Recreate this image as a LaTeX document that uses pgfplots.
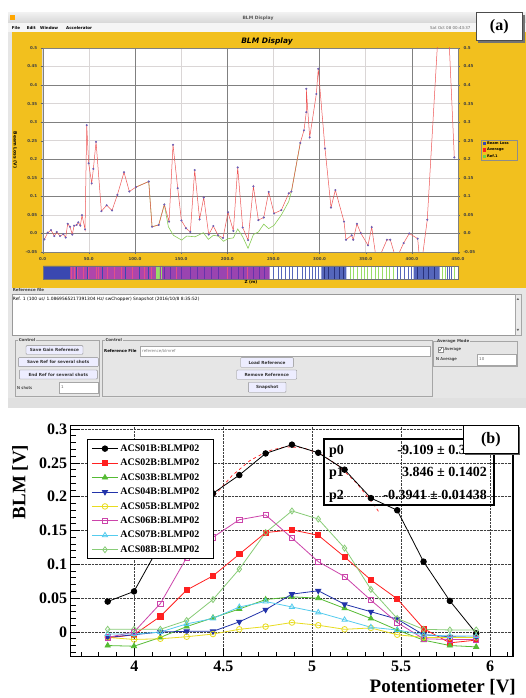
\documentclass[border=0pt]{standalone}
\usepackage{pgfplots}
\usepackage{pgfplotstable}
\pgfplotsset{compat=1.18}
\usepackage{fontspec}
\setmainfont{Liberation Serif}
\newfontfamily\gui{DejaVu Sans}
\definecolor{jyel}{HTML}{F2C01E}
\definecolor{jgray}{HTML}{E6E6E6}
\definecolor{avgred}{HTML}{EE5555}
\definecolor{mkpur}{HTML}{7766CC}
\definecolor{refgrn}{HTML}{88CC55}
\definecolor{rred}{HTML}{FF2020}
\definecolor{rgreen}{HTML}{55BB33}
\definecolor{rblue}{HTML}{2233AA}
\definecolor{ryel}{HTML}{E8DC20}
\definecolor{rmag}{HTML}{CC44AA}
\definecolor{rcyan}{HTML}{55CCEE}
\definecolor{rlgreen}{HTML}{88CC77}
\definecolor{sblue}{HTML}{3A48B0}
\definecolor{spur}{HTML}{9A44B0}
\definecolor{spink}{HTML}{E0508A}
\definecolor{sdpur}{HTML}{6633AA}
\definecolor{sgreen}{HTML}{99DD66}
\definecolor{smblue}{HTML}{5566BB}

\pgfplotstableread{
x a1 a2 a3 a4 a5 a6 a7 a8
3.850 0.045 -0.009 -0.020 -0.008 -0.008 -0.008 -0.003 0.004
3.998 0.060 -0.004 -0.021 -0.004 -0.011 0.000 -0.003 0.004
4.146 0.130 0.023 -0.008 0.000 -0.010 0.042 0.000 0.004
4.294 0.172 0.062 0.008 0.001 -0.007 0.110 0.012 0.017
4.442 0.205 0.083 0.021 0.001 -0.003 0.140 0.020 0.048
4.590 0.232 0.115 0.034 0.015 0.004 0.166 0.037 0.093
4.738 0.264 0.147 0.048 0.033 0.008 0.173 0.045 0.147
4.886 0.277 0.151 0.052 0.056 0.014 0.139 0.037 0.179
5.034 0.265 0.143 0.050 0.061 0.010 0.104 0.029 0.167
5.182 0.240 0.111 0.035 0.041 0.004 0.082 0.018 0.124
5.330 0.198 0.077 0.020 0.030 0.006 0.047 0.007 0.063
5.478 0.180 0.049 0.003 0.019 -0.004 0.014 0.003 0.020
5.626 0.104 0.005 -0.012 -0.004 -0.008 -0.010 -0.004 0.004
5.774 0.046 -0.016 -0.020 -0.007 -0.008 -0.011 -0.006 0.003
5.922 -0.002 -0.012 -0.022 -0.008 -0.008 -0.011 -0.006 0.003
}\blm

\tikzset{btn/.style={draw=black!45, fill=blue!7!white, rounded corners=0.8pt, line width=0.4pt}}
\newcommand\button[5]{\filldraw[btn] (#1,#2) rectangle (#3,#4);
  \node[font=\gui\bfseries\fontsize{4.2}{5}\selectfont, text=black!80, inner sep=0pt] at ({(#1+#3)/2},{(#2+#4)/2}) {#5};}
\newcommand\panel[5]{\draw[black!35, line width=0.4pt] (#1,#2) rectangle (#3,#4);
  \node[fill=jgray, inner sep=0.6pt, anchor=west, font=\gui\bfseries\fontsize{4}{5}\selectfont, text=black!75] at ({#1+3},#4) {#5};}
\newcommand\gtxt{\gui\bfseries\fontsize{4}{5}\selectfont}
\newcommand\lent[1]{#1\hspace*{8pt}}

\begin{document}
\begin{tikzpicture}[x=1pt,y=1pt]
\path[use as bounding box] (0,0) rectangle (526,698);
\fill[white] (0,0) rectangle (526,698);
% ---------------- window (a) ----------------
\fill[jgray] (8,290) rectangle (526,685);
\shade[top color=black!6, bottom color=black!16] (8,674.7) rectangle (526,685);
\fill[black!4] (8,666) rectangle (526,674.7);
\fill[orange!70!yellow] (10,677.5) rectangle (15,682.5);
\node[font=\gui\bfseries\fontsize{4.5}{5}\selectfont, text=black!65] at (258,679.7) {BLM Display};
\node[font=\gtxt, anchor=west, inner sep=0pt] at (11.7,670.3) {File};
\node[font=\gtxt, anchor=west, inner sep=0pt] at (26.7,670.3) {Edit};
\node[font=\gtxt, anchor=west, inner sep=0pt] at (40,670.3) {Window};
\node[font=\gtxt, anchor=west, inner sep=0pt] at (66,670.3) {Accelerator};
\node[font=\gui\fontsize{4}{5}\selectfont, text=black!60, anchor=west, inner sep=0pt] at (430,670.3) {Sat Oct 08 00:43:37};
\fill[jyel] (11.7,410) rectangle (526,666);
\node[font=\gui\bfseries\itshape\fontsize{7.5}{8}\selectfont] at (267,657) {BLM Display};
\node[font=\gui\bfseries\fontsize{4.5}{5}\selectfont, rotate=-90] at (15,548) {Beam Loss (V)};

\begin{axis}[at={(42.7pt,446pt)}, anchor=south west, scale only axis, width=415.3pt, height=204pt,
  xmin=0, xmax=450, ymin=-0.05, ymax=0.5,
  axis background/.style={fill=white},
  axis line style={draw=black!50, line width=0.4pt},
  xtick={0,50,...,450}, xticklabels={0.0,50.0,100.0,150.0,200.0,250.0,300.0,350.0,400.0,450.0},
  ytick={-0.05,0,0.05,0.1,0.15,0.2,0.25,0.3,0.35,0.4,0.45,0.5},
  yticklabels={-0.05,0.0,0.05,0.1,0.15,0.2,0.25,0.3,0.35,0.4,0.45,0.5},
  ticklabel style={font=\gui\bfseries\fontsize{4}{5}\selectfont, text=black!75},
  tick align=outside, major tick length=2pt, tick style={draw=black!60, line width=0.3pt},
  xtick pos=bottom, ytick pos=left,
  grid=major, major grid style={draw=red!10!black!16, line width=0.45pt},
  extra x ticks={100,200,300,400}, extra x tick labels={},
  extra x tick style={major grid style={draw=black!50, line width=0.6pt}},
  extra y ticks={0,0.1,0.2,0.3,0.4}, extra y tick labels={},
  extra y tick style={major grid style={draw=black!50, line width=0.6pt}},
]
\addplot[refgrn, line width=0.6pt] coordinates {
(101.1,0.125)(114.9,0.140)(118.5,0.018)(125.7,0.023)
(131.8,0.078)(136.2,0.018)(141.6,-0.005)(150.6,-0.018)(156,-0.007)(165.1,-0.009)(174.1,0.002)(179.5,-0.016)(184.9,-0.005)(190.3,-0.007)(195.8,-0.021)(201.2,-0.014)(206.6,-0.012)(211.3,0.012)(216.7,-0.009)(222.5,-0.04)(228.3,-0.003)(233.7,0.004)(239.5,0.025)(244.9,0.013)(250.7,0.022)(258.6,0.05)(266.6,0.086)(269.5,0.113)(279.1,0.244)};
\addplot[avgred, line width=0.5pt, mark=*, mark size=0.9pt, mark options={fill=mkpur, draw=mkpur!80!black, line width=0.2pt}] coordinates {
(1.8,-0.016)(5.4,0.002)(9.0,0.009)(12.6,-0.007)(15.2,0.004)(18.8,-0.007)(22.4,-0.002)(24.9,-0.011)(27.1,0.026)(29.6,0.018)(32.1,-0.003)(34.0,0.021)(36.8,0.023)(38.6,0.030)(40.8,0.021)(42.6,0.049)(45.9,0.011)(47.7,0.292)(49.8,0.189)(53.1,0.135)(54.9,0.174)(57.8,0.247)(63.6,0.060)(69.3,0.076)(75.1,0.062)(80.9,0.104)(88.1,0.165)(93.9,0.113)(101.1,0.125)(114.9,0.140)(118.5,0.018)(125.7,0.023)(131.8,0.078)(136.9,0.032)(141.2,0.239)(146.3,0.122)(150.3,0.035)(155.3,0.014)(160.0,0.004)(164.7,0.171)(170.0,0.038)(174.5,0.097)(179.9,-0.003)(184.9,0.020)(190.0,-0.005)(195.4,-0.012)(200.8,0.057)(206.6,0.007)(211.3,0.178)(216.7,0.016)(222.5,-0.018)(228.3,0.127)(233.7,0.036)(239.5,0.043)(244.9,0.112)(250.7,0.054)(258.6,0.063)(266.6,0.108)(269.5,0.113)(279.1,0.244)(283.1,0.278)(285.6,0.327)(285.6,0.390)(289.3,0.259)(296.5,0.376)(298.6,0.444)(305.9,0.229)(312.4,0.070)(317.1,0.117)(326.5,0.032)(328.6,-0.017)(334.8,-0.005)(336.5,-0.017)(340.5,0.026)(344.6,0.001)(352.5,-0.032)(356.5,0.017)(362,-0.08)(373.0,-0.017)(376.6,-0.017)(383,-0.07)(391.1,-0.026)(397.2,0.0)(406.3,-0.014)(409.5,-0.1)(416.7,0.037)(431,0.65)(438,0.65)(446,0.205)};
\end{axis}
\begin{axis}[at={(42.7pt,446pt)}, anchor=south west, scale only axis, width=415.3pt, height=204pt,
  xmin=0, xmax=450, ymin=-0.05, ymax=0.5, hide x axis, axis y line*=right,
  axis line style={draw=black!50, line width=0.4pt},
  ytick={-0.05,0,0.05,0.1,0.15,0.2,0.25,0.3,0.35,0.4,0.45,0.5},
  yticklabels={-0.05,0.0,0.05,0.1,0.15,0.2,0.25,0.3,0.35,0.4,0.45,0.5},
  ticklabel style={font=\gui\bfseries\fontsize{4}{5}\selectfont, text=black!75},
  tick align=outside, major tick length=2pt, tick style={draw=black!60, line width=0.3pt}]
\addplot[draw=none] coordinates {(0,0)};
\end{axis}
% legend (a)
\filldraw[fill=jyel, draw=black!45, line width=0.4pt] (481,538) rectangle (517,558);
\fill[sblue] (482.5,552.8) rectangle (486,556.2);
\fill[rred] (482.5,546.3) rectangle (486,549.7);
\fill[refgrn!80!green] (482.5,539.8) rectangle (486,543.2);
\node[font=\gui\bfseries\fontsize{3.6}{4}\selectfont, anchor=west, inner sep=0pt] at (487,554.5) {Beam Loss};
\node[font=\gui\bfseries\fontsize{3.6}{4}\selectfont, anchor=west, inner sep=0pt] at (487,548) {Average};
\node[font=\gui\bfseries\fontsize{3.6}{4}\selectfont, anchor=west, inner sep=0pt] at (487,541.5) {Ref.1};
% colour strip
\begin{axis}[at={(42.7pt,419pt)}, anchor=south west, scale only axis, width=415.3pt, height=13pt,
  xmin=0, xmax=450, ymin=0, ymax=1, hide axis, axis background/.style={fill=white}]
\addplot[fill=sblue, draw=none] coordinates {(0.7,0)(0.7,1)(29.6,1)(29.6,0)} \closedcycle;
\addplot[fill=rmag!80!sblue, draw=none] coordinates {(29.6,0)(29.6,1)(123,1)(123,0)} \closedcycle;
\addplot[fill=sgreen, draw=none] coordinates {(123,0)(123,1)(127,1)(127,0)} \closedcycle;
\addplot[fill=spur, draw=none] coordinates {(127,0)(127,1)(246,1)(246,0)} \closedcycle;
\addplot[fill=smblue, draw=none] coordinates {(302,0)(302,1)(329,1)(329,0)} \closedcycle;
\addplot[fill=smblue, draw=none] coordinates {(402,0)(402,1)(430,1)(430,0)} \closedcycle;
\addplot[ycomb, draw=spink, line width=0.9pt] coordinates {(31,1)(34,1)(38,1)(44,1)(50,1)(58,1)(60,1)(70,1)(78,1)(85,1)(97,1)(110,1)(118,1)(145,1)(200,1)(222,1)};
\addplot[ycomb, draw=sblue, line width=0.8pt] coordinates {(5,1)(12,1)(20,1)(36,1)(48,1)(65,1)(90,1)(105,1)(114,1)};
\addplot[ycomb, draw=sdpur, line width=0.8pt] coordinates {(132,1)(138,1)(150,1)(160,1)(168,1)(175,1)(183,1)(190,1)(205,1)(212,1)(218,1)(228,1)(235,1)(240,1)};
\addplot[ycomb, draw=sgreen, line width=0.7pt] coordinates {(124,1)(129,1)(333,1)(337,1)(341,1)(345,1)(349,1)(352,1)(356,1)(360,1)(364,1)(368,1)(372,1)(376,1)(380,1)(433,1)(436,1)(446,1)};
\addplot[ycomb, draw=smblue, line width=0.8pt] coordinates {(250.5,1)(255,1)(259,1)(263,1)(267,1)(271,1)(276,1)(281,1)(285,1)(289,1)(292,1)(296,1)(299,1)(384,1)(388,1)(392,1)(396,1)(399,1)(439,1)(441,1)(443,1)};
\addplot[ycomb, draw=sblue!70!black, line width=0.7pt] coordinates {(305,1)(310,1)(316,1)(321,1)(326,1)(406,1)(412,1)(418,1)(424,1)};
\end{axis}
\draw[black!55, line width=0.4pt] (42.7,419) rectangle (458,432);
\node[font=\gui\bfseries\fontsize{4.2}{5}\selectfont] at (251,415.5) {Z (m)};
% reference file area
\node[font=\gtxt, anchor=west, inner sep=0pt, text=black!75] at (12.7,407.5) {Reference file};
\filldraw[fill=white, draw=black!40, line width=0.4pt] (11.7,363) rectangle (520.7,404);
\filldraw[fill=black!8, draw=black!35, line width=0.3pt] (515,363) rectangle (520.7,404);
\fill[black!60] (516.5,398) -- (519.2,398) -- (517.85,400) -- cycle;
\fill[black!60] (516.5,369) -- (519.2,369) -- (517.85,367) -- cycle;
\node[font=\gui\fontsize{4.4}{5}\selectfont, anchor=west, inner sep=0pt] at (12.7,399.2) {Ref. 1 (100 us/ 1.0869565217391304 Hz/ swChopper) Snapshot (2016/10/8 8:35:52)};
% control panels
\panel{15}{301.3}{99.3}{358}{Control}
\button{26}{343.7}{83}{352.3}{Save Gain Reference}
\button{18.3}{331.3}{98.3}{340.3}{Save Ref for several shots}
\button{19.3}{319}{97.3}{328}{End Ref for several shots}
\node[font=\gui\fontsize{4}{5}\selectfont, anchor=west, inner sep=0pt] at (17,310.3) {N shots};
\filldraw[fill=white, draw=black!35, line width=0.3pt] (59,305) rectangle (98,316);
\node[font=\gui\fontsize{4}{5}\selectfont, anchor=west, inner sep=0pt, text=black!60] at (61,310.5) {1};
\panel{101.7}{301.3}{431.7}{358}{Control}
\node[font=\gtxt, anchor=west, inner sep=0pt] at (104,347) {Reference File};
\filldraw[fill=white, draw=black!35, line width=0.3pt] (140,342) rectangle (430,352.3);
\node[font=\gui\fontsize{4}{5}\selectfont, anchor=west, inner sep=0pt, text=black!50] at (142,347.2) {reference/blmref};
\button{240.7}{330.7}{293.3}{340.3}{Load Reference}
\button{236.7}{318.7}{296.7}{328}{Remove Reference}
\button{248.3}{305.7}{286}{315.7}{Snapshot}
\panel{433.3}{331.3}{517.3}{357}{Average Mode}
\filldraw[fill=white, draw=black!45, line width=0.3pt] (437.7,346.3) rectangle (442.7,351.3);
\draw[black!70, line width=0.5pt] (438.6,348.8) -- (440,347.3) -- (442,350.6);
\node[font=\gui\fontsize{4}{5}\selectfont, anchor=west, inner sep=0pt] at (444.5,348.8) {Average};
\node[font=\gui\fontsize{4}{5}\selectfont, anchor=west, inner sep=0pt] at (436,338.5) {N Average};
\filldraw[fill=white, draw=black!35, line width=0.3pt] (476.7,333) rectangle (516,344);
\node[font=\gui\fontsize{4}{5}\selectfont, anchor=west, inner sep=0pt, text=black!60] at (479,338.5) {10};
\draw[black!30, line width=0.4pt] (8,299.7) -- (526,299.7);
\fill[black!12] (8,290) rectangle (526,299.5);
% (a) label
\fill[black!55] (478,655.3) rectangle (524.7,683.3);
\filldraw[fill=white, draw=black!70, line width=0.5pt] (476,657.3) rectangle (522.7,685.3);
\node[font=\bfseries\fontsize{16}{16}\selectfont] at (499.3,671.3) {(a)};

% ---------------- plot (b) ----------------
\begin{axis}[at={(70.7pt,41.3pt)}, anchor=south west, scale only axis, width=442.3pt, height=231pt,
  xmin=3.642, xmax=6.129, ymin=-0.0365, ymax=0.305,
  axis line style={line width=1.2pt},
  xtick={4,4.5,5,5.5,6}, xticklabels={4,4.5,5,5.5,6},
  minor xtick={3.7,3.8,3.9,4.1,4.2,4.3,4.4,4.6,4.7,4.8,4.9,5.1,5.2,5.3,5.4,5.6,5.7,5.8,5.9,6.1},
  ytick={0,0.05,0.1,0.15,0.2,0.25,0.3}, yticklabels={0,0.05,0.1,0.15,0.2,0.25,0.3},
  minor ytick={-0.03,-0.02,-0.01,0.01,0.02,0.03,0.04,0.06,0.07,0.08,0.09,0.11,0.12,0.13,0.14,0.16,0.17,0.18,0.19,0.21,0.22,0.23,0.24,0.26,0.27,0.28,0.29},
  tick align=inside, xtick pos=bottom, ytick pos=left,
  major tick length=9pt, minor tick length=5pt,
  tick style={line width=0.8pt, black},
  grid=major, major grid style={densely dotted, black!75, line width=0.6pt},
  ticklabel style={font=\bfseries\fontsize{16}{16}\selectfont},
  xticklabel style={yshift=-1pt},
  legend style={at={(rel axis cs:0.0369,0.9424)}, anchor=north west, draw=black, line width=1.1pt, fill=white,
    font=\bfseries\fontsize{10}{10}\selectfont, inner xsep=4pt, inner ysep=3pt, row sep=2.3pt},
  legend cell align=left,
  legend image post style={line width=0.8pt},
  legend image code/.code={\draw[mark repeat=2,mark phase=2] plot coordinates {(0pt,0pt)(13pt,0pt)(26pt,0pt)};},
]
\addplot[rred, dashed, line width=0.7pt, forget plot] coordinates {(4.45,0.2015)(4.55,0.2314)(4.65,0.2535)(4.75,0.2676)(4.85,0.2739)(4.95,0.2723)(5.05,0.2628)(5.15,0.2454)(5.25,0.2201)(5.35,0.1870)(5.38,0.1755)};
\addplot[black, line width=0.8pt, mark=*, mark size=2.8pt] table[y=a1]{\blm};
\addplot[rred, line width=0.8pt, mark=square*, mark size=2.6pt] table[y=a2]{\blm};
\addplot[rgreen, line width=0.8pt, mark=triangle*, mark size=3pt] table[y=a3]{\blm};
\addplot[rblue, line width=0.8pt, mark=triangle*, mark size=3pt, mark options={rotate=180}] table[y=a4]{\blm};
\addplot[ryel, line width=0.8pt, mark=o, mark size=2.8pt] table[y=a5]{\blm};
\addplot[rmag, line width=0.8pt, mark=square, mark size=2.6pt] table[y=a6]{\blm};
\addplot[rcyan, line width=0.8pt, mark=triangle, mark size=3pt] table[y=a7]{\blm};
\addplot[rlgreen, line width=0.8pt, mark=diamond, mark size=3pt] table[y=a8]{\blm};
\addlegendentry{\lent{ACS01B:BLMP02}}
\addlegendentry{\lent{ACS02B:BLMP02}}
\addlegendentry{\lent{ACS03B:BLMP02}}
\addlegendentry{\lent{ACS04B:BLMP02}}
\addlegendentry{\lent{ACS05B:BLMP02}}
\addlegendentry{\lent{ACS06B:BLMP02}}
\addlegendentry{\lent{ACS07B:BLMP02}}
\addlegendentry{\lent{ACS08B:BLMP02}}
\end{axis}
\node[rotate=90, font=\bfseries\fontsize{19}{19}\selectfont] at (20,216) {BLM [V]};
\node[anchor=base east, font=\bfseries\fontsize{19}{19}\selectfont, inner sep=0pt] at (516,5.5) {Potentiometer [V]};
% stats box
\draw[line width=1.2pt] (324,193) rectangle (494,259);
\node[anchor=base west, font=\bfseries\fontsize{14}{14}\selectfont, inner sep=0pt] at (329,243.3) {p0};
\node[anchor=base east, font=\bfseries\fontsize{14}{14}\selectfont, inner sep=0pt] at (487,243.3) {-9.109 ± 0.3486};
\node[anchor=base west, font=\bfseries\fontsize{14}{14}\selectfont, inner sep=0pt] at (329,221.3) {p1};
\node[anchor=base east, font=\bfseries\fontsize{14}{14}\selectfont, inner sep=0pt] at (487,221.3) {3.846 ± 0.1402};
\node[anchor=base west, font=\bfseries\fontsize{14}{14}\selectfont, inner sep=0pt] at (329,198.5) {p2};
\node[anchor=base east, font=\bfseries\fontsize{14}{14}\selectfont, inner sep=0pt] at (487,198.5) {-0.3941 ± 0.01438};
% (b) label
\fill[black!65] (465.3,242.7) rectangle (520.3,271);
\filldraw[fill=white, draw=black, line width=0.8pt] (463.3,244.7) rectangle (518.3,273);
\node[font=\bfseries\fontsize{16}{16}\selectfont] at (490.8,258.8) {(b)};
\end{tikzpicture}
\end{document}
